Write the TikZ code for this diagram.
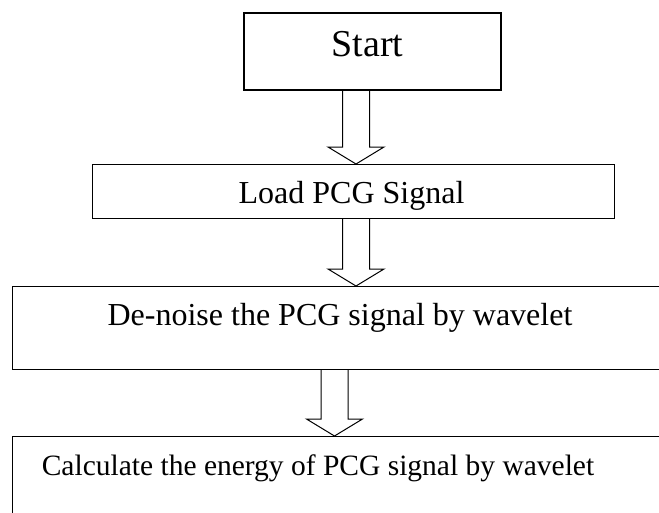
\documentclass[tikz,border=0pt]{standalone}
\usepackage{fontspec}
\setmainfont{Liberation Serif}
\usetikzlibrary{calc}
\newcommand{\hollowarrow}[2]{%
    \draw[arrowline] ($(#1)+(-13.5,0)$) -- ($(#2)+(-13.5,-17)$) -- ($(#2)+(-28,-17)$)
        -- (#2) -- ($(#2)+(28,-17)$) -- ($(#2)+(13.5,-17)$) -- ($(#1)+(13.5,0)$);}
\begin{document}
\begin{tikzpicture}[
        x=1pt, y=-1pt,
        font=\fontsize{32}{38}\selectfont
    ]
    \tikzset{
        mybox/.style = {rectangle, draw=black, line width=1pt, inner sep=0pt, anchor=north west},
        mytext/.style = {inner sep=0pt, anchor=base},
        arrowline/.style = {draw=black, line width=1pt, line join=miter},
    }
    \useasboundingbox (0,0) rectangle (659,512);
    \node[mybox, line width=1.6pt, minimum width=257pt, minimum height=77pt] at (243,12) (start) {};
    \node[mybox, minimum width=522pt, minimum height=54pt] at (92,164) (load) {};
    \node[mybox, minimum width=656pt, minimum height=83pt] at (12,286) (denoise) {};
    \node[mybox, minimum width=660pt, minimum height=100pt] at (12,436) (energy) {};
    %
    \node[mytext, font=\fontsize{38}{44}\selectfont] at (367.5,56) (starttext) {Start};
    \node[mytext] at (351.5,203.5) (loadtext) {Load PCG Signal};
    \node[mytext] at (340,325) (denoisetext) {De-noise the PCG signal by wavelet};
    \node[mytext, font=\fontsize{29.5}{35}\selectfont] at (318,475) (energytext) {Calculate the energy of PCG signal by wavelet};
    %
    \coordinate (a1) at (start.south -| 356,0);
    \coordinate (b1) at (load.north -| 356,0);
    \coordinate (a2) at (load.south -| 356,0);
    \coordinate (b2) at (denoise.north -| 356,0);
    \coordinate (a3) at (denoise.south -| 334.5,0);
    \coordinate (b3) at (energy.north -| 334.5,0);
    \hollowarrow{a1}{b1}
    \hollowarrow{a2}{b2}
    \hollowarrow{a3}{b3}
\end{tikzpicture}
\end{document}
